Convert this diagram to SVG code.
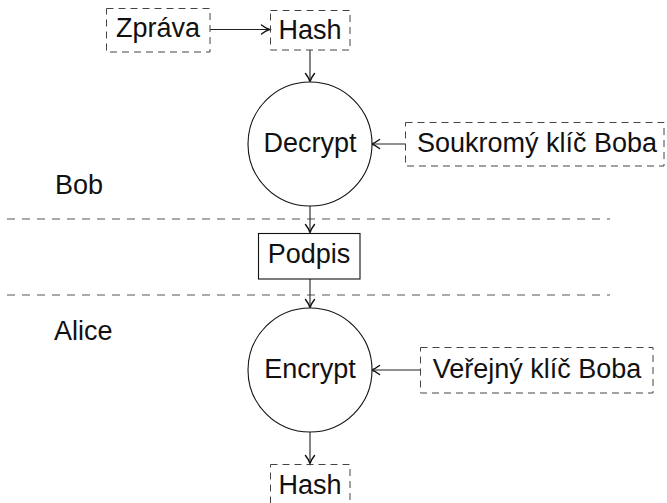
<svg xmlns="http://www.w3.org/2000/svg" width="667" height="503" viewBox="0 0 667 503">
  <style>
    text { font-family: "Liberation Sans", Arial, sans-serif; font-size: 27px; fill: #111; }
    .c { text-anchor: middle; }
    .dash { fill: none; stroke: #444; stroke-width: 1; stroke-dasharray: 7 5; }
    .solid { fill: #fff; stroke: #111; stroke-width: 1.1; }
    .edge { fill: none; stroke: #222; stroke-width: 1.1; marker-end: url(#tip); }
    .sep { fill: none; stroke: #555; stroke-width: 1; stroke-dasharray: 8 7; }
  </style>
  <defs>
    <marker id="tip" markerWidth="12" markerHeight="12" refX="9" refY="6" orient="auto" markerUnits="userSpaceOnUse">
      <path d="M1.5,1.5 Q6,5 9.5,6 Q6,7 1.5,10.5" fill="none" stroke="#111" stroke-width="1.4" stroke-linecap="round"/>
    </marker>
  </defs>

  <!-- lane separators -->
  <g id="separators">
    <line class="sep" x1="7" y1="219" x2="610" y2="219"/>
    <line class="sep" x1="7" y1="295" x2="610" y2="295"/>
  </g>

  <!-- lane labels -->
  <g id="lane-bob"><text x="55" y="194">Bob</text></g>
  <g id="lane-alice"><text x="54" y="340">Alice</text></g>

  <!-- connectors -->
  <g id="connectors">
    <line class="edge" x1="210" y1="29.5" x2="269" y2="29.5"/>
    <line class="edge" x1="310" y1="50" x2="310" y2="81"/>
    <line class="edge" x1="405" y1="144" x2="372" y2="144"/>
    <line class="edge" x1="310" y1="206" x2="310" y2="232"/>
    <line class="edge" x1="310" y1="279" x2="310" y2="307"/>
    <line class="edge" x1="420" y1="370" x2="372" y2="370"/>
    <line class="edge" x1="310" y1="432" x2="310" y2="463"/>
  </g>

  <g id="zprava">
    <rect class="dash" x="106.5" y="8.5" width="103.5" height="43.5"/>
    <text class="c" x="158" y="37">Zpráva</text>
  </g>

  <g id="hash-top">
    <rect class="dash" x="270.5" y="10.5" width="79.5" height="39.5"/>
    <text class="c" x="310" y="39">Hash</text>
  </g>

  <g id="decrypt">
    <circle class="solid" cx="310" cy="144" r="62"/>
    <text class="c" x="310" y="152">Decrypt</text>
  </g>

  <g id="soukromy-klic">
    <rect class="dash" x="405.5" y="122.5" width="258.5" height="43.5"/>
    <text class="c" x="537" y="152">Soukromý klíč Boba</text>
  </g>

  <g id="podpis">
    <rect class="solid" x="258.5" y="233.5" width="101.5" height="45.5"/>
    <text class="c" x="309" y="263">Podpis</text>
  </g>

  <g id="encrypt">
    <circle class="solid" cx="310" cy="370" r="62"/>
    <text class="c" x="310" y="378">Encrypt</text>
  </g>

  <g id="verejny-klic">
    <rect class="dash" x="420.5" y="347.5" width="232.5" height="45.5"/>
    <text class="c" x="537" y="378">Veřejný klíč Boba</text>
  </g>

  <g id="hash-bottom">
    <rect class="dash" x="270.5" y="464.5" width="79.5" height="42"/>
    <text class="c" x="310" y="494">Hash</text>
  </g>
</svg>
